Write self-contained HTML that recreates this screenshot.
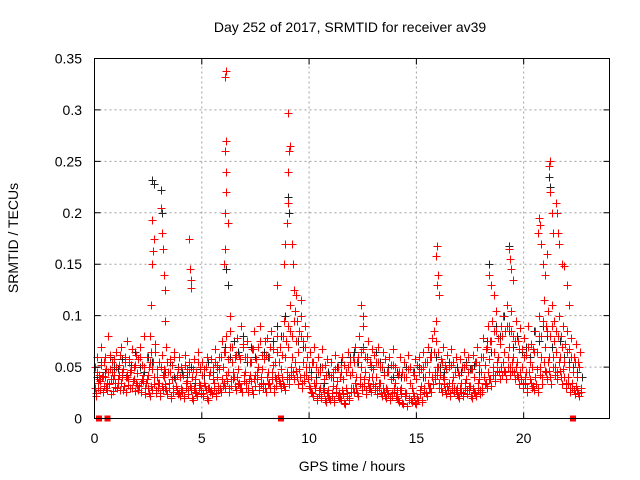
<!DOCTYPE html>
<html><head><meta charset="utf-8">
<style>
html,body{margin:0;padding:0;background:#fff;}
svg{display:block;font-family:"Liberation Sans",sans-serif;}
</style></head>
<body>
<svg id="chart" width="640" height="480" viewBox="0 0 640 480">
<rect width="640" height="480" fill="#fff"/>
<text x="350" y="32" font-size="14" text-anchor="middle">Day 252 of 2017, SRMTID for receiver av39</text>
<text x="352" y="471" font-size="14" text-anchor="middle">GPS time / hours</text>
<text transform="translate(18,238) rotate(-90)" font-size="14" text-anchor="middle">SRMTID / TECUs</text>
<g id="grid"></g>
<g id="marks" shape-rendering="crispEdges"></g>
<rect x="94.5" y="58.5" width="515" height="360" fill="none" stroke="#000" stroke-width="1"/>
<g id="ticks"></g>
</svg>
<script>
const xTicks=[0,5,10,15,20];
const yTicks=[0,0.05,0.1,0.15,0.2,0.25,0.3,0.35];
const yTickLabels=["0","0.05","0.1","0.15","0.2","0.25","0.3","0.35"];
const redBaseA=[.030,.045,.038,.052,.041,.060,.035,.048,.055,.042,
.050,.038,.062,.045,.055,.040,.058,.047,.036,.052,
.044,.060,.038,.050,.035,.042,.055,.048,.065,.040,
.035,.050,.042,.030,.055,.045,.038,.060,.032,.048,
.040,.028,.052,.036,.045,.030,.048,.038,.055,.033,
.042,.035,.050,.030,.045,.038,.055,.040,.048,.060,
.050,.065,.045,.070,.055,.040,.062,.048,.058,.072,
.045,.060,.038,.055,.068,.042,.050,.075,.048,.058,
.062,.045,.070,.052,.040,.065,.055,.048,.080,.060,
.070,.085,.060,.095,.075,.065,.080,.055,.070,.060,
.050,.040,.055,.035,.045,.030,.050,.038,.042,.028,
.040,.032,.048,.036,.025,.045,.038,.030,.050,.042,
.045,.055,.040,.060,.050,.068,.045,.058,.040,.052,
.048,.040,.055,.035,.050,.042,.030,.045,.038,.052,
.035,.028,.045,.030,.040,.025,.048,.035,.030,.042,
.038,.045,.032,.050,.040,.055,.045,.060,.065,.075,
.050,.042,.055,.038,.048,.035,.052,.040,.045,.030,
.042,.035,.050,.038,.045,.032,.048,.040,.055,.038,
.045,.060,.052,.070,.058,.075,.065,.085,.060,.072,
.080,.065,.090,.070,.085,.060,.075,.055,.068,.050,
.060,.045,.070,.055,.050,.065,.048,.080,.060,.095,
.070,.085,.060,.090,.075,.065,.080,.060,.070,.055,
.065,.050,.060,.045,.055,.040,.050];
const redBaseB=[.025,.035,.028,.040,.032,.030,.045,.038,.027,.035,
.030,.042,.035,.028,.040,.033,.045,.030,.038,.035,
.028,.035,.042,.030,.038,.025,.032,.040,.028,.035,
.025,.032,.040,.028,.035,.022,.030,.038,.028,.025,
.030,.022,.035,.028,.032,.020,.030,.025,.035,.028,
.025,.032,.020,.030,.028,.035,.025,.032,.030,.038,
.035,.042,.030,.038,.045,.032,.040,.035,.030,.042,
.035,.030,.042,.028,.038,.045,.032,.040,.035,.030,
.040,.035,.045,.030,.038,.042,.035,.040,.032,.045,
.040,.050,.045,.055,.040,.048,.035,.042,.050,.038,
.030,.025,.035,.020,.028,.022,.030,.018,.025,.020,
.025,.018,.030,.022,.020,.028,.015,.025,.020,.030,
.030,.035,.025,.040,.032,.038,.028,.035,.030,.040,
.032,.028,.035,.025,.030,.022,.028,.020,.025,.030,
.022,.018,.028,.015,.025,.012,.020,.018,.025,.015,
.020,.028,.018,.030,.025,.035,.030,.040,.045,.050,
.035,.030,.040,.028,.032,.025,.035,.030,.028,.022,
.030,.025,.035,.028,.032,.022,.030,.025,.035,.028,
.030,.040,.035,.045,.038,.050,.042,.055,.045,.050,
.055,.045,.060,.050,.055,.045,.050,.040,.045,.035,
.040,.030,.045,.035,.032,.040,.030,.050,.040,.055,
.045,.055,.040,.060,.050,.045,.055,.040,.048,.035,
.040,.030,.035,.028,.032,.025,.030];
const redBaseC=[.050,.060,.042,.070,.055,.048,.080,.062,.045,.058,
.065,.052,.070,.048,.060,.075,.055,.068,.050,.062,
.058,.070,.052,.080,.060,.050,.065,.055,.072,.048,
.055,.062,.048,.070,.045,.058,.052,.065,.042,.060,
.050,.042,.062,.048,.055,.040,.058,.045,.065,.050,
.055,.048,.060,.042,.058,.050,.068,.052,.060,.075,
.065,.080,.058,.085,.070,.060,.078,.062,.090,.070,
.060,.075,.055,.068,.085,.058,.070,.090,.062,.075,
.078,.060,.085,.068,.055,.080,.070,.062,.095,.075,
.090,.110,.080,.105,.095,.085,.100,.075,.090,.080,
.065,.055,.070,.050,.060,.045,.068,.052,.058,.042,
.055,.045,.062,.050,.040,.060,.052,.045,.065,.055,
.060,.070,.055,.080,.065,.090,.060,.075,.055,.068,
.062,.055,.070,.050,.065,.058,.045,.060,.052,.068,
.050,.042,.060,.045,.055,.040,.062,.050,.045,.058,
.052,.060,.048,.065,.055,.070,.060,.078,.085,.095,
.065,.058,.070,.052,.062,.050,.068,.055,.060,.045,
.058,.050,.065,.052,.060,.048,.062,.055,.070,.052,
.060,.078,.068,.090,.075,.095,.085,.105,.078,.090,
.100,.085,.110,.090,.105,.080,.095,.075,.088,.068,
.078,.062,.090,.072,.068,.085,.065,.100,.080,.115,
.090,.105,.080,.110,.095,.085,.100,.080,.090,.072,
.085,.068,.078,.060,.072,.055,.065];
const redBaseD=[.022,.030,.036,.026,.040,.028,.034,.024,.038,.031,
.035,.028,.040,.032,.026,.038,.030,.036,.027,.033,
.032,.026,.036,.024,.030,.022,.028,.034,.025,.030,
.022,.028,.034,.024,.030,.020,.026,.032,.024,.022,
.026,.020,.030,.024,.028,.018,.026,.022,.030,.024,
.022,.028,.018,.026,.024,.030,.022,.028,.026,.032,
.030,.036,.026,.032,.038,.028,.034,.030,.026,.036,
.030,.026,.036,.024,.032,.038,.028,.034,.030,.026,
.034,.030,.038,.026,.032,.036,.030,.034,.028,.038,
.034,.042,.038,.046,.034,.040,.030,.036,.042,.032,
.026,.022,.030,.018,.024,.020,.026,.016,.022,.018,
.022,.016,.026,.020,.018,.024,.014,.022,.018,.026,
.026,.030,.022,.034,.028,.032,.024,.030,.026,.034,
.028,.024,.030,.022,.026,.020,.024,.018,.022,.026,
.020,.016,.024,.014,.022,.012,.018,.016,.022,.014,
.018,.024,.016,.026,.022,.030,.026,.034,.038,.042,
.030,.026,.034,.024,.028,.022,.030,.026,.024,.020,
.026,.022,.030,.024,.028,.020,.026,.022,.030,.024,
.026,.034,.030,.038,.032,.042,.036,.046,.038,.042,
.046,.038,.050,.042,.046,.038,.042,.034,.038,.030,
.034,.026,.038,.030,.028,.034,.026,.042,.034,.046,
.038,.046,.034,.050,.042,.038,.046,.034,.040,.030,
.034,.026,.030,.024,.028,.022,.026];
const blackBase=[.040,.055,.045,.060,.050,.048,.058,.042,.052,.065,
.050,.045,.060,.055,.040,.050,.045,.055,.040,.050,
.045,.040,.050,.035,.048,.042,.055,.045,.050,.060,
.070,.060,.075,.065,.080,.055,.070,.060,.075,.065,
.060,.075,.090,.080,.100,.085,.095,.075,.070,.060,
.045,.040,.050,.035,.045,.040,.050,.055,.045,.060,
.065,.055,.070,.060,.050,.065,.055,.045,.050,.040,
.045,.040,.050,.035,.045,.050,.040,.055,.065,.060,
.050,.045,.055,.040,.050,.045,.055,.048,.052,.045,
.060,.075,.065,.090,.080,.100,.085,.070,.080,.065,
.070,.060,.085,.075,.090,.080,.070,.065,.075,.060,
.055,.050,.045,.040];
const redSpikeTimes=[2.6,2.65,2.7,2.72,2.75,2.7,3.1,3.15,3.2,3.25,3.3,3.3,4.4,4.45,4.5,4.5,6.05,6.08,6.1,6.12,6.15,6.1,6.12,6.1,6.12,6.2,6.3,8.5,8.85,8.9,8.95,9.0,9.0,9.05,9.1,9.0,9.2,9.25,9.3,9.4,9.6,12.4,12.5,15.95,15.9,16.0,15.95,16.05,18.4,18.5,18.6,19.3,19.35,19.4,19.5,20.65,20.7,20.75,20.8,20.9,21.0,21.1,21.2,21.22,21.25,21.3,21.35,21.5,21.55,21.6,21.65,21.8,21.9,22.0,22.1];
const redSpikeValues=[.08,.11,.15,.163,.175,.193,.205,.18,.165,.14,.125,.095,.175,.145,.135,.127,.15,.165,.2,.22,.24,.26,.27,.332,.338,.19,.1,.13,.15,.17,.19,.21,.24,.26,.265,.297,.17,.15,.125,.12,.115,.11,.1,.168,.158,.14,.13,.12,.14,.13,.12,.165,.155,.145,.135,.18,.195,.188,.17,.15,.14,.16,.245,.25,.22,.2,.18,.21,.2,.18,.17,.15,.148,.13,.11];
const blackSpikeTimes=[2.7,2.75,3.1,3.15,6.15,6.2,9.0,9.05,21.2,21.25,19.3,18.4];
const blackSpikeValues=[.232,.228,.222,.2,.145,.13,.215,.2,.235,.225,.168,.15];
const zeroTimes=[0.2,0.6,8.7,22.3];
const zeroValues=[0,0,0,0];

const X0=94.5,X1=609.5,Y0=418.5,Y1=58.5,XMAX=24,YMAX=0.35;
function xs(t){return X0+(X1-X0)*t/XMAX;}
function ys(v){return Y0-(Y0-Y1)*v/YMAX;}
const NS="http://www.w3.org/2000/svg";
const grid=document.getElementById('grid'),ticks=document.getElementById('ticks'),marks=document.getElementById('marks');
function mk(tag,attrs,parent){const e=document.createElementNS(NS,tag);for(const k in attrs)e.setAttribute(k,attrs[k]);parent.appendChild(e);return e;}
xTicks.forEach((t,i)=>{
  const x=xs(t);
  if(t>0){const g=mk('line',{x1:x,y1:Y0,x2:x,y2:Y1,stroke:'#a0a0a0','stroke-dasharray':'2,3'},grid);
  
  }
  const tk=mk('path',{d:`M${x},${Y0}v-6M${x},${Y1}v6`,stroke:'#000'},ticks);
  
  
  const lb=mk('text',{x:x,y:443,'font-size':14,'text-anchor':'middle'},ticks);
  lb.textContent=String(t);
  
  
});
yTicks.forEach((v,i)=>{
  const y=ys(v);
  if(v>0&&v<YMAX){const g=mk('line',{x1:X0,y1:y,x2:X1,y2:y,stroke:'#a0a0a0','stroke-dasharray':'2,3'},grid);
  
  }
  const tk=mk('path',{d:`M${X0},${y}h6M${X1},${y}h-6`,stroke:'#000'},ticks);
  
  
  const lb=mk('text',{x:82,y:y+5,'font-size':14,'text-anchor':'end'},ticks);
  lb.textContent=yTickLabels[i];
  
  
});
function plus(t,v,color,name){
  const x=Math.round(xs(t))+0.5,y=Math.round(ys(v))+0.5;
  const p=mk('path',{d:`M${x-4},${y}h8M${x},${y-4}v8`,stroke:color,'stroke-width':1},marks);
  
  
}
blackBase.forEach((v,i)=>plus(i*0.2+0.1,v,'#222','black-point'));
blackSpikeTimes.forEach((t,i)=>plus(t,blackSpikeValues[i],'#222','black-point'));
redBaseB.forEach((v,i)=>plus(i*0.1+0.05,v,'#ff0000','red-point'));
redBaseD.forEach((v,i)=>plus(i*0.1+0.075,v,'#ff0000','red-point'));
redBaseC.forEach((v,i)=>plus(i*0.1+0.025,v,'#ff0000','red-point'));
redBaseA.forEach((v,i)=>plus(i*0.1,v,'#ff0000','red-point'));
redSpikeTimes.forEach((t,i)=>plus(t,redSpikeValues[i],'#ff0000','red-point'));
zeroTimes.forEach((t,i)=>{
  const r=mk('rect',{x:xs(t)-3,y:ys(zeroValues[i])-3,width:6,height:6,fill:'#ff0000'},marks);
  
  
});
</script>
</body></html>
